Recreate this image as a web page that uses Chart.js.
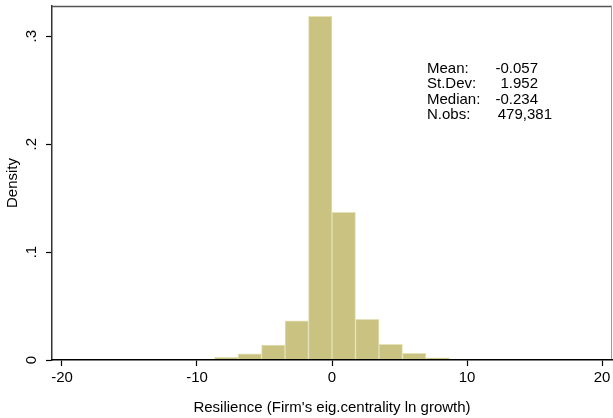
<!DOCTYPE html>
<html>
<head>
<meta charset="utf-8">
<script src="https://cdn.jsdelivr.net/npm/chart.js@4/dist/chart.umd.min.js"></script>
<style>
  html, body { margin: 0; padding: 0; background: #fff; }
  #wrap { width: 613px; height: 418px; }
</style>
</head>
<body>
<div id="wrap"><canvas id="myChart" width="613" height="418"></canvas></div>
<script>
// histogram bins (width 1.74), centres and densities
const binCenters = [-16.53, -14.79, -13.05, -11.31, -9.57, -7.83, -6.09, -4.35, -2.61, -0.87,
                    0.87, 2.61, 4.35, 6.09, 7.83, 9.57, 11.31, 13.05, 14.79, 16.53];
const density = [0.0002, 0.0002, 0.0002, 0.0003, 0.0008, 0.0025, 0.0058, 0.0139, 0.0364, 0.3185,
                 0.1368, 0.0377, 0.0145, 0.0062, 0.0021, 0.0008, 0.0003, 0.0002, 0.0002, 0.0002];
const xTicks = [-20, -10, 0, 10, 20];
const yTicks = [0, 0.1, 0.2, 0.3];
const yTickLabels = ['0', '.1', '.2', '.3'];
const statLabels = ['Mean:', 'St.Dev:', 'Median:', 'N.obs:'];
const statValues = ['-0.057', '1.952', '-0.234', '479,381'];

const FONT = '"Liberation Sans", Arial, sans-serif';

// stats box in the upper right
const statsText = {
  id: 'statsText',
  afterDraw(chart) {
    const ctx = chart.ctx;
    ctx.save();
    ctx.font = '15px ' + FONT;
    ctx.fillStyle = '#000';
    ctx.textBaseline = 'alphabetic';
    statLabels.forEach((lab, i) => {
      const y = 73 + i * 15.3;
      ctx.textAlign = 'left';
      ctx.fillText(lab, 427, y);
      ctx.textAlign = 'right';
      ctx.fillText(statValues[i], i === 3 ? 552 : 538, y);
    });
    ctx.restore();
  }
};

// top and right frame lines
const frame = {
  id: 'frame',
  beforeDatasetsDraw(chart) {
    const a = chart.chartArea, ctx = chart.ctx;
    ctx.save();
    ctx.strokeStyle = '#555';
    ctx.lineWidth = 1.5;
    ctx.beginPath();
    ctx.moveTo(a.left, a.top + 0.5);
    ctx.lineTo(a.right, a.top + 0.5);
    ctx.stroke();
    ctx.strokeStyle = '#999';
    ctx.lineWidth = 1;
    ctx.beginPath();
    ctx.moveTo(a.right - 0.5, a.top);
    ctx.lineTo(a.right - 0.5, a.bottom);
    ctx.stroke();
    ctx.restore();
  }
};

const ctx = document.getElementById('myChart').getContext('2d');
new Chart(ctx, {
  type: 'bar',
  data: {
    datasets: [{
      data: binCenters.map((c, i) => ({ x: c, y: density[i] })),
      backgroundColor: 'rgb(201, 194, 129)',
      borderColor: 'rgb(229, 225, 183)',
      borderWidth: 1,
      barPercentage: 1,
      categoryPercentage: 1,
    }],
  },
  options: {
    responsive: false,
    animation: false,
    layout: { padding: { top: 6, right: 1, left: 0, bottom: 0 } },
    plugins: { legend: { display: false }, tooltip: { enabled: false } },
    scales: {
      x: {
        type: 'linear',
        offset: false,
        min: -20.74,
        max: 20.74,
        afterBuildTicks: s => { s.ticks = xTicks.map(v => ({ value: v })); },
        afterFit: s => { s.height = 58; s.paddingLeft = 0; s.paddingRight = 0; },
        grid: { offset: false, drawOnChartArea: false, drawTicks: true, tickLength: 6, color: '#000', tickWidth: 1.2 },
        border: { color: '#000', width: 1.5, z: 1 },
        ticks: { font: { family: FONT, size: 15 }, color: '#000', padding: 3, maxRotation: 0, autoSkip: false },
        title: {
          display: true,
          text: "Resilience (Firm's eig.centrality ln growth)",
          font: { family: FONT, size: 15 },
          color: '#000',
          padding: { top: 0, bottom: 1 },
        },
      },
      y: {
        min: 0,
        max: 0.328,
        afterBuildTicks: s => { s.ticks = yTicks.map(v => ({ value: v })); },
        afterFit: s => { s.width = 52; s.paddingTop = 0; s.paddingBottom = 0; },
        grid: { drawOnChartArea: false, drawTicks: true, tickLength: 6, color: '#000', tickWidth: 1.2 },
        border: { color: '#333', width: 1.5 },
        ticks: {
          font: { family: FONT, size: 15 },
          color: '#000',
          minRotation: 90,
          maxRotation: 90,
          crossAlign: 'center',
          padding: 8,
          callback: (v, i) => yTickLabels[i],
        },
        title: {
          display: true,
          text: 'Density',
          font: { family: FONT, size: 15 },
          color: '#000',
          padding: { top: 4, bottom: 0 },
        },
      },
    },
  },
  plugins: [frame, statsText],
});
</script>
</body>
</html>
